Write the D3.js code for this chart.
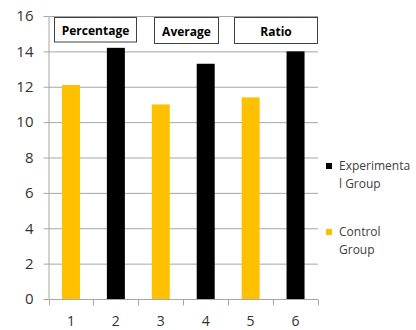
<!DOCTYPE html>
<html><head><meta charset="utf-8">
<script src="https://cdn.jsdelivr.net/npm/d3@7"></script>
<style>body{margin:0;background:#fff}svg{display:block}</style>
</head><body>
<script>
const categories = ["1","2","3","4","5","6"];
const values = [12.1, 14.2, 11.0, 13.3, 11.4, 14.0];
const groups = ["Control","Experimental","Control","Experimental","Control","Experimental"];
const yTicks = [0,2,4,6,8,10,12,14,16];
const boxLabels = ["Percentage","Average","Ratio"];
const legendLines = [["Experimenta","l Group"],["Control","Group"]];
const legendGroups = ["Experimental","Control"];
const colors = {Experimental:"#000000", Control:"#FFC000"};

const W=416,H=330, L=48.5, R=318, T=16, B=299;
const font="'Open Sans', 'Liberation Sans', sans-serif";
const svg=d3.select("body").append("svg").attr("width",W).attr("height",H);
const xb=d3.scaleBand().domain(categories).range([L,R]);
const y=d3.scaleLinear().domain([0,16]).range([B,T]);

// gridlines
svg.append("g").selectAll("line").data(yTicks.filter(d=>d>0)).join("line")
 .attr("x1",L).attr("x2",R).attr("y1",d=>y(d)+0.5).attr("y2",d=>y(d)+0.5)
 .attr("stroke","#a6a6a6").attr("stroke-width",1);

// bars
svg.append("g").selectAll("rect").data(values).join("rect")
 .attr("x",(d,i)=>xb(categories[i])+xb.bandwidth()/2-9).attr("width",18)
 .attr("y",d=>y(d)).attr("height",d=>B-y(d))
 .attr("fill",(d,i)=>colors[groups[i]]);

// y axis
const ya=svg.append("g").attr("transform",`translate(${L},0)`)
 .call(d3.axisLeft(y).tickValues(yTicks).tickSize(5).tickPadding(10));
ya.select(".domain").attr("stroke","#a6a6a6").attr("d",`M0.5,${T}V${B}`);
ya.selectAll(".tick line").attr("stroke","#a6a6a6");
ya.selectAll("text").attr("font-family",font).attr("font-size",15).attr("fill","#333");

// x axis
const xa=svg.append("g").attr("transform",`translate(0,${B+0.5})`);
xa.append("line").attr("x1",L).attr("x2",R).attr("stroke","#a6a6a6");
xa.selectAll("line.t").data(categories.concat(["end"])).join("line").attr("class","t")
 .attr("x1",(d,i)=>i<categories.length?Math.round(xb(d))+0.5:R+0.5)
 .attr("x2",(d,i)=>i<categories.length?Math.round(xb(d))+0.5:R+0.5)
 .attr("y1",0).attr("y2",6).attr("stroke","#a6a6a6");
xa.selectAll("text").data(categories).join("text")
 .attr("x",d=>xb(d)+xb.bandwidth()/2).attr("y",26).attr("text-anchor","middle")
 .attr("font-family",font).attr("font-size",14).attr("fill","#333").text(d=>d);

// boxes
const boxes=[{x:54,w:82},{x:154,w:64},{x:234,w:83}];
const bg=svg.append("g");
boxLabels.forEach((t,i)=>{
  const b=boxes[i];
  bg.append("rect").attr("x",b.x+0.5).attr("y",17.5).attr("width",b.w).attr("height",i==0?24.5:26)
    .attr("fill","#fff").attr("stroke","#404040").attr("stroke-width",1);
  bg.append("text").attr("x",b.x+b.w/2+0.5).attr("y",i==0?35:36).attr("text-anchor","middle")
    .attr("font-family",font).attr("font-size",12).attr("font-weight","bold").attr("fill","#000").text(t);
});

// legend
const lg=svg.append("g");
const ly=[161,227];
legendLines.forEach((lines,i)=>{
  lg.append("rect").attr("x",326).attr("y",ly[i]+2).attr("width",6).attr("height",6).attr("fill",colors[legendGroups[i]]);
  const t=lg.append("text").attr("font-family",font).attr("font-size",12).attr("fill","#404040");
  lines.forEach((s,j)=>t.append("tspan").attr("x",339).attr("y",ly[i]+9+j*18).text(s));
});
</script>
</body></html>
